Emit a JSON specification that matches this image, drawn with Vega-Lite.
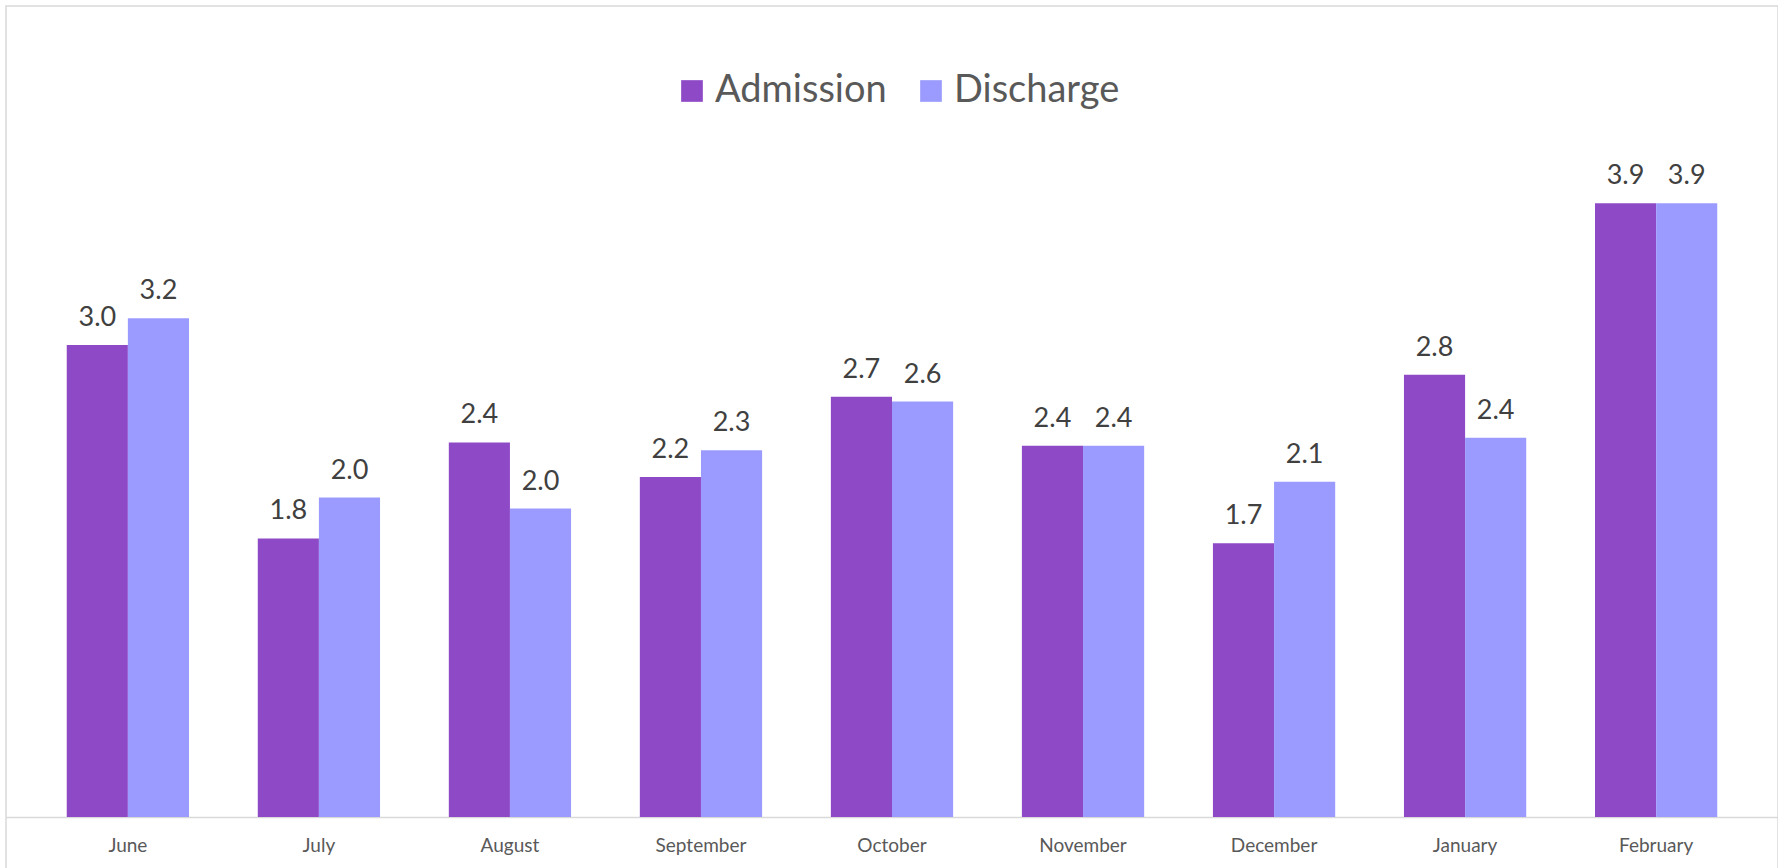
{
  "$schema": "https://vega.github.io/schema/vega-lite/v6.json",
  "width": 1772,
  "height": 870,
  "autosize": {"type": "none"},
  "padding": {"left": 6, "top": 6, "right": 0, "bottom": 0},
  "background": "white",
  "config": {
    "view": {"stroke": "#D9D9D9", "strokeWidth": 1.5},
    "font": "Lato"
  },
  "data": {
    "values": [
      {"month": "June", "series": "Admission", "value": 3.00},
      {"month": "June", "series": "Discharge", "value": 3.17},
      {"month": "July", "series": "Admission", "value": 1.77},
      {"month": "July", "series": "Discharge", "value": 2.03},
      {"month": "August", "series": "Admission", "value": 2.38},
      {"month": "August", "series": "Discharge", "value": 1.96},
      {"month": "September", "series": "Admission", "value": 2.16},
      {"month": "September", "series": "Discharge", "value": 2.33},
      {"month": "October", "series": "Admission", "value": 2.67},
      {"month": "October", "series": "Discharge", "value": 2.64},
      {"month": "November", "series": "Admission", "value": 2.36},
      {"month": "November", "series": "Discharge", "value": 2.36},
      {"month": "December", "series": "Admission", "value": 1.74},
      {"month": "December", "series": "Discharge", "value": 2.13},
      {"month": "January", "series": "Admission", "value": 2.81},
      {"month": "January", "series": "Discharge", "value": 2.41},
      {"month": "February", "series": "Admission", "value": 3.90},
      {"month": "February", "series": "Discharge", "value": 3.90}
    ]
  },
  "encoding": {
    "x": {
      "field": "month",
      "type": "nominal",
      "sort": null,
      "scale": {"paddingInner": 0.36, "paddingOuter": 0.318},
      "axis": {
        "orient": "bottom",
        "offset": -59,
        "title": null,
        "labelAngle": 0,
        "domainColor": "#D9D9D9",
        "domainWidth": 1.5,
        "ticks": false,
        "tickSize": 0,
        "grid": false,
        "labelFont": "Lato",
        "labelFontSize": 19,
        "labelColor": "#595959",
        "labelPadding": 19
      }
    },
    "xOffset": {
      "field": "series",
      "type": "nominal",
      "sort": ["Admission", "Discharge"],
      "scale": {"paddingInner": 0, "paddingOuter": 0}
    },
    "y": {
      "field": "value",
      "type": "quantitative",
      "scale": {"domain": [-0.375, 5.154], "nice": false, "zero": false},
      "axis": null
    }
  },
  "layer": [
    {
      "mark": {"type": "bar"},
      "encoding": {
        "color": {
          "field": "series",
          "type": "nominal",
          "scale": {"domain": ["Admission", "Discharge"], "range": ["#8E49C6", "#9B9BFF"]},
          "legend": {
            "title": null,
            "orient": "none",
            "legendX": 667,
            "legendY": 66,
            "direction": "horizontal",
            "symbolType": "square",
            "symbolSize": 470,
            "symbolStrokeWidth": 0,
            "labelFont": "Lato",
            "labelFontSize": 38,
            "labelColor": "#595959",
            "labelOffset": 4,
            "labelLimit": 500,
            "columnPadding": 25,
            "padding": 0
          }
        }
      }
    },
    {
      "mark": {
        "type": "text",
        "baseline": "alphabetic",
        "dy": -19,
        "fontSize": 27,
        "font": "Lato",
        "color": "#404040"
      },
      "encoding": {
        "text": {"field": "value", "type": "quantitative", "format": ".1f"}
      }
    }
  ]
}
